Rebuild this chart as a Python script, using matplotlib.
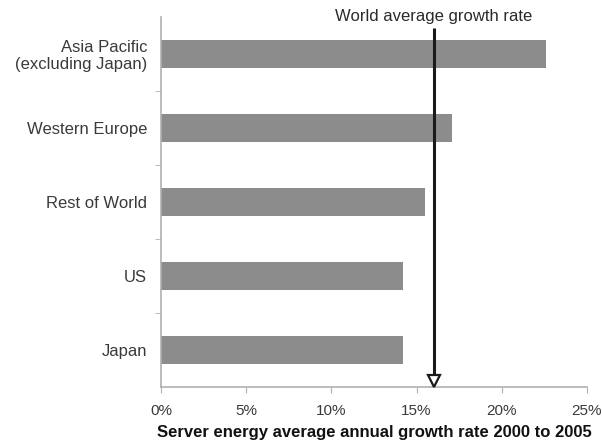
import matplotlib.pyplot as plt

plt.rcParams['font.family'] = ['Liberation Sans', 'DejaVu Sans']

regions = ["Japan", "US", "Rest of World", "Western Europe",
           "Asia Pacific\n(excluding Japan)"]
growth = [14.2, 14.2, 15.5, 17.1, 22.6]
world_avg = 16.0

fig = plt.figure(figsize=(6.02, 4.47), dpi=100)
ax = fig.add_axes([0.2674, 0.1342, 0.7076, 0.8278])

ypos = list(range(len(regions)))
ax.barh(ypos, growth, height=0.39, color='#8c8c8c', edgecolor='none', zorder=2)

ax.set_xlim(0, 25)
ax.set_ylim(-0.5, len(regions) - 0.5)
ax.set_xticks([0, 5, 10, 15, 20, 25])
ax.set_xticklabels(["0%", "5%", "10%", "15%", "20%", "25%"], fontsize=11, color='#3a3a3a')

# category labels without ticks, tick marks between categories
ax.set_yticks(ypos)
ax.set_yticklabels(regions, fontsize=12, color='#3a3a3a', ha='right', linespacing=1.1)
ax.tick_params(axis='y', length=0, pad=10)
ax.set_yticks([i + 0.5 for i in ypos[:-1]], minor=True)
ax.tick_params(axis='y', which='minor', length=4, color='#b0b0b0', direction='out')
ax.tick_params(axis='x', length=4, color='#b0b0b0', direction='out', pad=8)

for side in ['top', 'right']:
    ax.spines[side].set_visible(False)
for side in ['left', 'bottom']:
    ax.spines[side].set_color('#b0b0b0')
    ax.spines[side].set_linewidth(1.2)

ax.set_xlabel("Server energy average annual growth rate 2000 to 2005",
              fontsize=12, fontweight='bold', labelpad=5, color='#111111')

# world average marker: vertical line ending in an open triangle
ax.plot([world_avg, world_avg], [4.35, -0.36], color='#1a1a1a', lw=2.2,
        solid_capstyle='butt', zorder=4, clip_on=False)
ax.plot([world_avg], [-0.42], marker='v', markersize=8, mfc='white',
        mec='#1a1a1a', mew=1.6, zorder=5, clip_on=False)
ax.text(world_avg, 4.5, "World average growth rate", ha='center', va='center',
        fontsize=12, color='#2a2a2a', clip_on=False,
        bbox=dict(fc='white', ec='none', pad=0.5), zorder=3)

fig.savefig("out.png", dpi=100)
